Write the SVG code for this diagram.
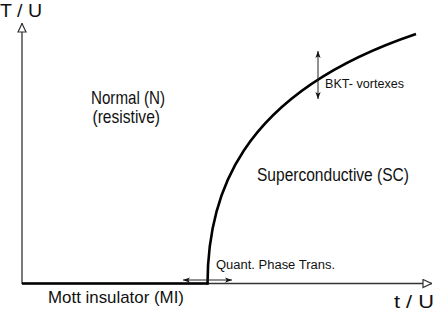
<svg xmlns="http://www.w3.org/2000/svg" width="436" height="314" viewBox="0 0 436 314">
<style>
text{font-family:"Liberation Sans Narrow","Liberation Sans",Arial,sans-serif;fill:#111}
.ax{stroke:#333;stroke-width:1.3;fill:none}
.thick{stroke:#000;stroke-width:2.6;fill:none}
.dbl{stroke:#222;stroke-width:1;fill:none;marker-start:url(#sa);marker-end:url(#sa)}
</style>
<defs>
<marker id="oa" viewBox="0 0 10 10" refX="10" refY="5" markerWidth="10" markerHeight="10" markerUnits="userSpaceOnUse" orient="auto">
<path d="M1,1 L9.5,5 L1,9 Z" fill="#fff" stroke="#333" stroke-width="1.2"/>
</marker>
<marker id="sa" viewBox="0 0 8 8" refX="8" refY="4" markerWidth="8" markerHeight="7" markerUnits="userSpaceOnUse" orient="auto-start-reverse">
<path d="M0,1 L8,4 L0,7 L2,4 Z" fill="#111"/>
</marker>
</defs>
<g id="connectors">
<line class="ax" x1="22" y1="284" x2="22" y2="23" marker-end="url(#oa)"/>
<line class="ax" x1="22" y1="283.5" x2="432" y2="283.5" marker-end="url(#oa)"/>
<line class="thick" x1="22" y1="283.5" x2="208.5" y2="283.5"/>
<path class="thick" d="M207.5,284.5 C207.5,200 235,95 416,34"/>
<line class="dbl" x1="183" y1="280" x2="232" y2="280"/>
<line class="dbl" x1="318" y1="51" x2="318" y2="99"/>
</g>
<g id="axis-y-label"><text x="0" y="17" font-size="19" textLength="42" lengthAdjust="spacingAndGlyphs">T / U</text></g>
<g id="axis-x-label"><text x="394" y="308" font-size="19" textLength="40" lengthAdjust="spacingAndGlyphs">t / U</text></g>
<g id="normal"><text x="91" y="104" font-size="19" textLength="74" lengthAdjust="spacingAndGlyphs">Normal (N)</text>
<text x="92.5" y="123" font-size="19" textLength="67.5" lengthAdjust="spacingAndGlyphs">(resistive)</text></g>
<g id="bkt"><text x="325" y="88" font-size="12.5" textLength="79" lengthAdjust="spacingAndGlyphs">BKT-  vortexes</text></g>
<g id="sc"><text x="257" y="181" font-size="18" textLength="152" lengthAdjust="spacingAndGlyphs">Superconductive (SC)</text></g>
<g id="qpt"><text x="216" y="269" font-size="12.5" textLength="119" lengthAdjust="spacingAndGlyphs">Quant.  Phase  Trans.</text></g>
<g id="mi"><text x="48" y="303" font-size="17" textLength="136" lengthAdjust="spacingAndGlyphs">Mott  insulator (MI)</text></g>
</svg>
